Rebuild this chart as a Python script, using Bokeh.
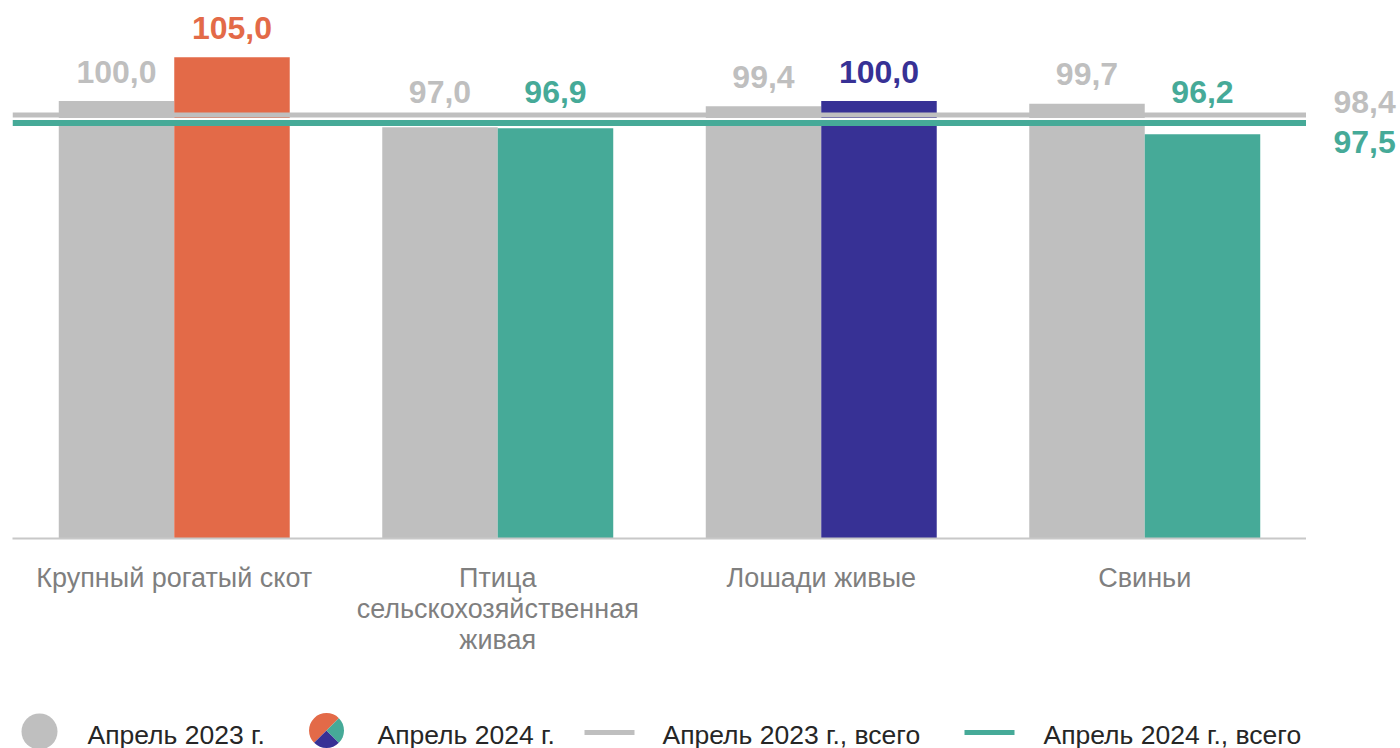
import math
from bokeh.plotting import figure
from bokeh.models import ColumnDataSource, FactorRange, Range1d, Span, CategoricalAxis
from bokeh.transform import dodge
from bokeh.layouts import column, row
from bokeh.core.properties import value
from bokeh.embed import file_html
from bokeh.resources import INLINE

# ---------------- data ----------------
categories = ["Крупный рогатый скот", "Птица сельскохозяйственная живая",
              "Лошади живые", "Свиньи"]
# tick label lines of each category (one axis per line)
label_lines = [
    ["Крупный рогатый скот", "Птица", "Лошади живые", "Свиньи"],
    ["", "сельскохозяйственная", "", ""],
    ["", "живая", "", ""],
]
april_2023 = [100.0, 97.0, 99.4, 99.7]
april_2024 = [105.0, 96.9, 100.0, 96.2]
total_2023 = 98.4
total_2024 = 97.5
series_names = ["Апрель 2023 г.", "Апрель 2024 г.",
                "Апрель 2023 г., всего", "Апрель 2024 г., всего"]

# ---------------- style ----------------
GRAY = "#BFBFBF"
ORANGE = "#E36A48"
TEAL = "#46AA98"
NAVY = "#373195"
colors_2024 = [ORANGE, TEAL, NAVY, TEAL]
FONT = value("Liberation Sans")
MAIN_W, SIDE_W = 1306, 94
MAIN_H, BOTTOM = 680, 142
Y0, Y1 = 50, 111.49
BAR_W = 0.357
LABEL_FLOOR = 97.7   # labels of bars under the total lines are lifted above them


def fmt(v):
    return f"{v:.1f}".replace(".", ",")


src = ColumnDataSource(dict(
    cat=categories,
    v23=april_2023,
    v24=april_2024,
    c24=colors_2024,
    l23=[fmt(v) for v in april_2023],
    l24=[fmt(v) for v in april_2024],
    a23=[max(v, LABEL_FLOOR) for v in april_2023],
    a24=[max(v, LABEL_FLOOR) for v in april_2024],
))

yr = Range1d(Y0, Y1)
p = figure(width=MAIN_W, height=MAIN_H, x_range=FactorRange(*categories),
           y_range=yr, output_backend="svg", toolbar_location=None,
           x_axis_location=None, y_axis_location=None,
           min_border_left=12, min_border_right=0,
           min_border_top=0, min_border_bottom=BOTTOM)
p.outline_line_color = None
p.xgrid.visible = False
p.ygrid.visible = False

p.vbar(x=dodge("cat", -BAR_W / 2, range=p.x_range), top="v23", bottom=Y0,
       width=BAR_W, fill_color=GRAY, line_color=None, source=src)
p.vbar(x=dodge("cat", BAR_W / 2, range=p.x_range), top="v24", bottom=Y0,
       width=BAR_W, fill_color="c24", line_color=None, source=src)

# total lines
p.add_layout(Span(location=total_2023, dimension="width", line_color=GRAY, line_width=5))
p.add_layout(Span(location=(total_2023 + total_2024) / 2, dimension="width",
                  line_color="white", line_width=2))
p.add_layout(Span(location=total_2024, dimension="width", line_color=TEAL, line_width=6))

# value labels
for xoff, ycol, tcol, ccol in ((-BAR_W / 2, "a23", "l23", GRAY), (BAR_W / 2, "a24", "l24", "c24")):
    p.text(x=dodge("cat", xoff, range=p.x_range), y=ycol, text=tcol,
           text_color=ccol, text_font=FONT, text_font_style="bold", text_font_size="32px",
           text_align="center", text_baseline="middle", y_offset=-29.5, source=src)

# category axes: one categorical axis per text line, each on its own factor range
for i, lines in enumerate(label_lines):
    # blank entries get distinct whitespace names so every factor stays unique
    factors = [t if t else " " * (k + 1) for k, t in enumerate(lines)]
    name = f"line{i}"
    p.extra_x_ranges[name] = FactorRange(*factors)
    ax = CategoricalAxis(x_range_name=name)
    ax.major_label_text_font = "Liberation Sans"
    ax.major_label_text_font_size = "27px"
    ax.major_label_text_color = "#7F7F7F"
    ax.axis_line_color = "#C8C8C8" if i == 0 else None
    ax.axis_line_width = 2
    ax.major_tick_line_color = None
    ax.minor_tick_line_color = None
    ax.major_tick_out = 0
    ax.major_tick_in = 0
    ax.major_label_standoff = 24 if i == 0 else -2
    p.add_layout(ax, "below")

# ---------------- right-hand total labels ----------------
side = figure(width=SIDE_W, height=MAIN_H, x_range=Range1d(0, SIDE_W), y_range=yr,
              output_backend="svg", toolbar_location=None, x_axis_location=None,
              y_axis_location=None, min_border_left=0, min_border_right=0,
              min_border_top=0, min_border_bottom=BOTTOM)
side.outline_line_color = None
side.xgrid.visible = False
side.ygrid.visible = False
side.text(x=[27, 27], y=[total_2023, total_2024], text=[fmt(total_2023), fmt(total_2024)],
          text_color=[GRAY, TEAL], text_font=FONT, text_font_style="bold",
          text_font_size="32px", text_align="left", text_baseline="middle",
          y_offset=[-13.5, 19.5])

# ---------------- legend ----------------
LG_H = 748 - MAIN_H
lg = figure(width=MAIN_W + SIDE_W, height=LG_H, x_range=Range1d(0, MAIN_W + SIDE_W),
            y_range=Range1d(0, LG_H), output_backend="svg", toolbar_location=None,
            x_axis_location=None, y_axis_location=None, min_border=0)
lg.outline_line_color = None
lg.xgrid.visible = False
lg.ygrid.visible = False

lg.scatter(x=[39], y=[17], size=36, fill_color=GRAY, line_color=None)
lg.wedge(x=[326] * 3, y=[18] * 3, radius=17.5, radius_units="screen",
         start_angle=[math.radians(45), math.radians(225), math.radians(315)],
         end_angle=[math.radians(225), math.radians(315), math.radians(405)],
         fill_color=[ORANGE, NAVY, TEAL], line_color=None)
lg.segment(x0=[584], y0=[16], x1=[634], y1=[16], line_color=GRAY, line_width=5)
lg.segment(x0=[964], y0=[16], x1=[1014], y1=[16], line_color=TEAL, line_width=5)
lg.text(x=[87, 377, 662, 1043], y=[14] * 4, text=series_names,
        text_font=FONT, text_font_size="26.5px", text_color="#262626",
        text_baseline="middle", text_align="left")

layout = column(row(p, side, spacing=0), lg, spacing=0)
open("out.html", "w").write(file_html(layout, INLINE))
